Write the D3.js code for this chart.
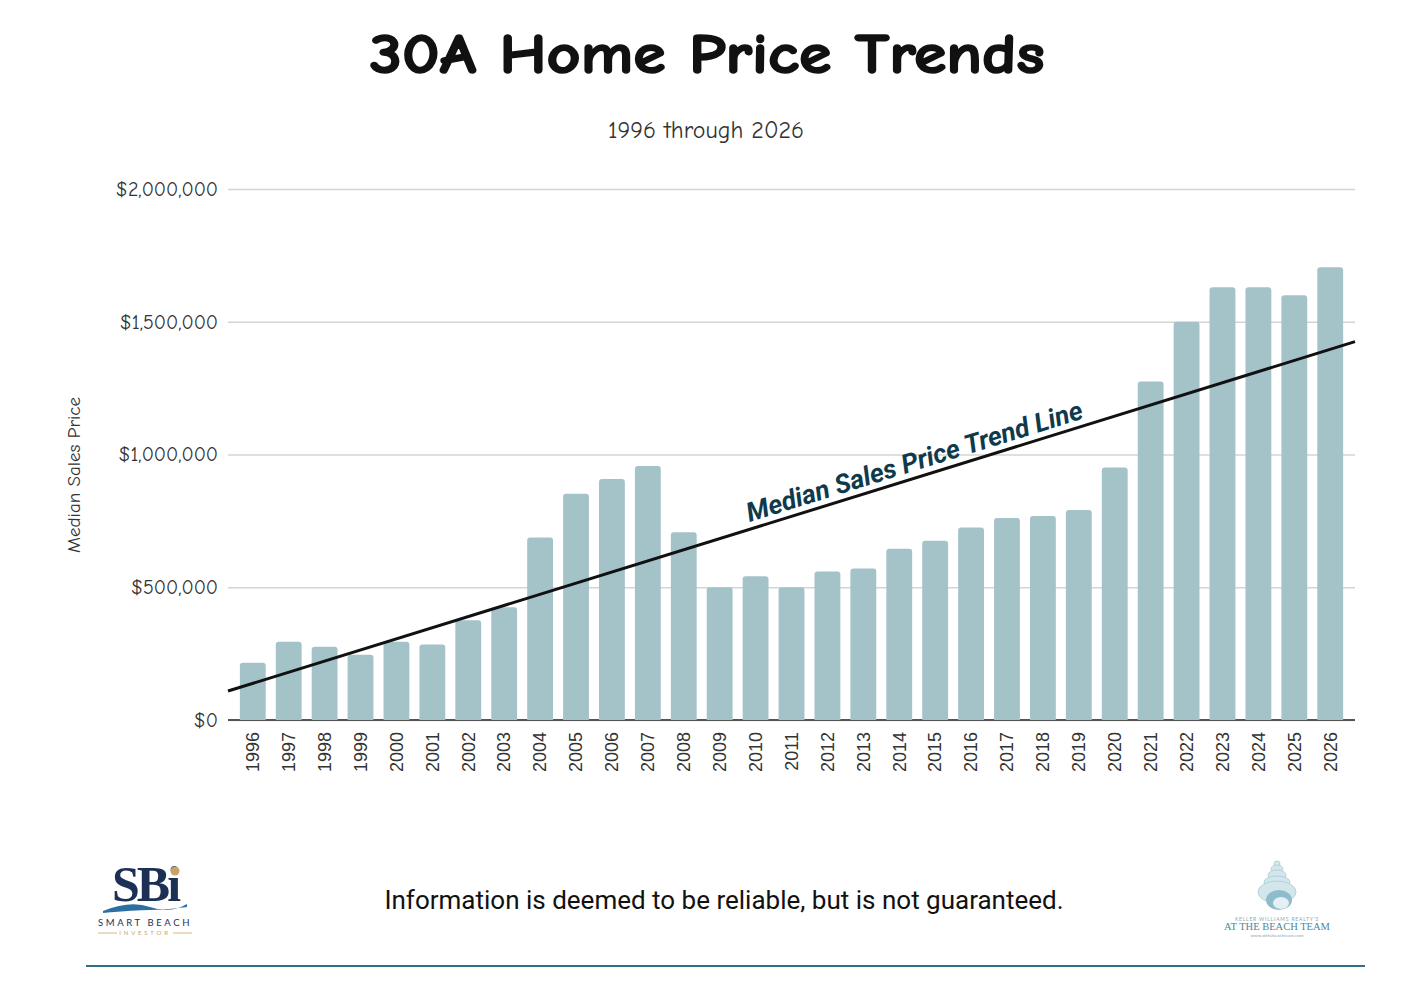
<!DOCTYPE html>
<html>
<head>
<meta charset="utf-8">
<script src="https://cdn.jsdelivr.net/npm/d3@7"></script>
<style>
  body { margin: 0; background: #fff; }
  svg { display: block; }
</style>
</head>
<body>
<script>
// values
const years = ['1996','1997','1998','1999','2000','2001','2002','2003','2004','2005',
  '2006','2007','2008','2009','2010','2011','2012','2013','2014','2015',
  '2016','2017','2018','2019','2020','2021','2022','2023','2024','2025','2026'];
const medianPrices = [216000, 295000, 276000, 246000, 295000, 284000, 376000, 425000, 687000, 852000,
  908000, 957000, 707000, 500000, 541000, 500000, 559000, 571000, 645000, 675000,
  725000, 761000, 768000, 791000, 951000, 1275000, 1500000, 1630000, 1630000, 1600000, 1705000];
const yTicks = [0, 500000, 1000000, 1500000, 2000000];
// trend line value at the first and last year
const trendYears = ['1996', '2026'];
const trendValues = [138000, 1396000];

const W = 1414, H = 983;
const margin = { top: 189, right: 59, bottom: 263, left: 228 };
const width = W - margin.left - margin.right;
const height = H - margin.top - margin.bottom;

const comic = '"Comic Sans MS", "Comic Neue", "DejaVu Sans", sans-serif';

const svg = d3.select('body')
  .append('svg')
  .attr('width', W)
  .attr('height', H);

svg.append('text')
  .attr('x', 707)
  .attr('y', 73)
  .attr('text-anchor', 'middle')
  .style('font-family', comic)
  .style('font-weight', 'bold')
  .style('font-size', '56px')
  .attr('fill', '#111')
  .attr('stroke', '#111')
  .attr('stroke-width', 1.6)
  .attr('textLength', 675)
  .attr('lengthAdjust', 'spacingAndGlyphs')
  .text('30A Home Price Trends');

svg.append('text')
  .attr('x', 706)
  .attr('y', 138)
  .attr('text-anchor', 'middle')
  .style('font-family', comic)
  .style('font-size', '24px')
  .attr('fill', '#333')
  .text('1996 through 2026');

const g = svg.append('g')
  .attr('transform', `translate(${margin.left},${margin.top})`);

const x = d3.scaleBand()
  .domain(years)
  .range([0, width])
  .paddingInner(0.28)
  .paddingOuter(0.33);

const y = d3.scaleLinear()
  .domain([0, 2000000])
  .range([height, 0]);

// gridlines + y labels
const yAxis = d3.axisLeft(y)
  .tickValues(yTicks)
  .tickSize(-width)
  .tickPadding(10)
  .tickFormat(d3.format('$,'));

g.append('g')
  .attr('class', 'y-axis')
  .call(yAxis)
  .call(a => a.select('.domain').remove())
  .call(a => a.selectAll('.tick line').attr('stroke', '#d4d4d4').attr('stroke-width', 1.5))
  .call(a => a.selectAll('.tick text')
    .style('font-family', comic)
    .style('font-size', '20px')
    .attr('fill', '#333'));

// baseline
g.append('line')
  .attr('x1', 0)
  .attr('x2', width)
  .attr('y1', y(0))
  .attr('y2', y(0))
  .attr('stroke', '#555')
  .attr('stroke-width', 2);

// bars with slightly rounded tops
const r = 3;
g.selectAll('.bar')
  .data(years)
  .enter()
  .append('path')
  .attr('class', 'bar')
  .attr('fill', '#a4c3c8')
  .attr('d', (d, i) => {
    const x0 = x(d), bw = x.bandwidth();
    const top = y(medianPrices[i]), bot = y(0);
    return `M${x0},${bot}V${top + r}Q${x0},${top} ${x0 + r},${top}H${x0 + bw - r}Q${x0 + bw},${top} ${x0 + bw},${top + r}V${bot}Z`;
  });

// x labels
const xAxis = d3.axisBottom(x).tickSize(0).tickPadding(0);
g.append('g')
  .attr('class', 'x-axis')
  .attr('transform', `translate(0,${height})`)
  .call(xAxis)
  .call(a => a.select('.domain').remove())
  .call(a => a.selectAll('.tick text')
    .attr('transform', 'rotate(-90)')
    .attr('text-anchor', 'end')
    .attr('x', -12)
    .attr('y', 0)
    .attr('dy', '0.35em')
    .style('font-family', '"Liberation Sans", Arial, sans-serif')
    .style('font-size', '18px')
    .attr('fill', '#333'));

// trend line, extended to both edges of the plot
const tx0 = x(trendYears[0]) + x.bandwidth() / 2;
const tx1 = x(trendYears[1]) + x.bandwidth() / 2;
const slope = (trendValues[1] - trendValues[0]) / (tx1 - tx0);
const trendAt = px => trendValues[0] + (px - tx0) * slope;
const trendPts = [0, width].map(px => ({ px, v: trendAt(px) }));

const line = d3.line()
  .x(d => d.px)
  .y(d => y(d.v));

g.append('path')
  .datum(trendPts)
  .attr('fill', 'none')
  .attr('stroke', '#111')
  .attr('stroke-width', 3)
  .attr('d', line);

const labelX = 691;
const angle = Math.atan2(y(trendAt(width)) - y(trendAt(0)), width) * 180 / Math.PI;
g.append('text')
  .attr('transform', `translate(${labelX},${y(trendAt(labelX))}) rotate(${angle})`)
  .attr('y', -7)
  .attr('text-anchor', 'middle')
  .style('font-family', 'Roboto, sans-serif')
  .style('font-weight', 'bold')
  .style('font-style', 'italic')
  .style('font-size', '26.5px')
  .attr('fill', '#0f3a4c')
  .text('Median Sales Price Trend Line');

// y axis title
svg.append('text')
  .attr('transform', 'translate(80,475) rotate(-90)')
  .attr('text-anchor', 'middle')
  .style('font-family', comic)
  .style('font-size', '19px')
  .attr('fill', '#333')
  .text('Median Sales Price');

// footer
svg.append('text')
  .attr('x', 724)
  .attr('y', 909)
  .attr('text-anchor', 'middle')
  .style('font-family', 'Roboto, sans-serif')
  .style('font-size', '26px')
  .attr('fill', '#111')
  .text('Information is deemed to be reliable, but is not guaranteed.');

svg.append('line')
  .attr('x1', 86)
  .attr('x2', 1365)
  .attr('y1', 966)
  .attr('y2', 966)
  .attr('stroke', '#2f6f85')
  .attr('stroke-width', 2);

// left logo (SBi)
const sbi = svg.append('g').attr('transform', 'translate(145,0)');
sbi.append('text')
  .attr('y', 901)
  .attr('text-anchor', 'middle')
  .style('font-family', '"Liberation Serif", "DejaVu Serif", serif')
  .style('font-weight', 'bold')
  .style('font-size', '50px')
  .style('letter-spacing', '-3px')
  .attr('fill', '#1c2f55')
  .text('SBi');
sbi.append('circle')
  .attr('cx', 30)
  .attr('cy', 871)
  .attr('r', 4.5)
  .attr('fill', '#c8a469');
sbi.append('path')
  .attr('d', 'M-42,911 Q-15,900 5,907 T42,904 L42,907 Q20,910 5,910 T-42,913Z')
  .attr('fill', '#2d6fa3');
sbi.append('text')
  .attr('y', 926)
  .attr('text-anchor', 'middle')
  .style('font-family', 'Lato, sans-serif')
  .style('font-size', '9.5px')
  .style('letter-spacing', '2.6px')
  .attr('fill', '#1c2f55')
  .text('SMART BEACH');
sbi.append('text')
  .attr('y', 935)
  .attr('text-anchor', 'middle')
  .style('font-family', 'Lato, sans-serif')
  .style('font-size', '6px')
  .style('letter-spacing', '2.8px')
  .attr('fill', '#c8a469')
  .text('INVESTOR');
[[-47, -28], [28, 47]].forEach(s => {
  sbi.append('line')
    .attr('x1', s[0]).attr('x2', s[1])
    .attr('y1', 933).attr('y2', 933)
    .attr('stroke', '#c8a469').attr('stroke-width', 0.8);
});

// right logo (shell + team name)
const atb = svg.append('g').attr('transform', 'translate(1277,0)');
const shell = [[0, 864, 3, 3], [0, 869, 6, 4], [0, 875, 9, 5], [0, 882, 13, 6], [0, 892, 19, 11]];
shell.forEach(s => {
  atb.append('ellipse')
    .attr('cx', s[0]).attr('cy', s[1])
    .attr('rx', s[2]).attr('ry', s[3])
    .attr('fill', '#d3e6ec')
    .attr('stroke', '#b3d2dc')
    .attr('stroke-width', 1);
});
atb.append('ellipse')
  .attr('cx', 2).attr('cy', 900)
  .attr('rx', 13).attr('ry', 10)
  .attr('fill', '#8fbccb');
atb.append('ellipse')
  .attr('cx', 4).attr('cy', 903)
  .attr('rx', 8).attr('ry', 6)
  .attr('fill', '#e3f0f4');
atb.append('text')
  .attr('y', 921)
  .attr('text-anchor', 'middle')
  .style('font-family', 'Lato, sans-serif')
  .style('font-size', '5px')
  .style('letter-spacing', '0.8px')
  .attr('fill', '#8aa9b4')
  .text("KELLER WILLIAMS REALTY'S");
atb.append('text')
  .attr('y', 930)
  .attr('text-anchor', 'middle')
  .style('font-family', '"Liberation Serif", serif')
  .style('font-size', '10.5px')
  .attr('fill', '#4d8799')
  .text('AT THE BEACH TEAM');
atb.append('text')
  .attr('y', 937)
  .attr('text-anchor', 'middle')
  .style('font-family', 'Lato, sans-serif')
  .style('font-size', '4.5px')
  .attr('fill', '#8aa9b4')
  .text('www.atthebeachteam.com');
</script>
</body>
</html>
